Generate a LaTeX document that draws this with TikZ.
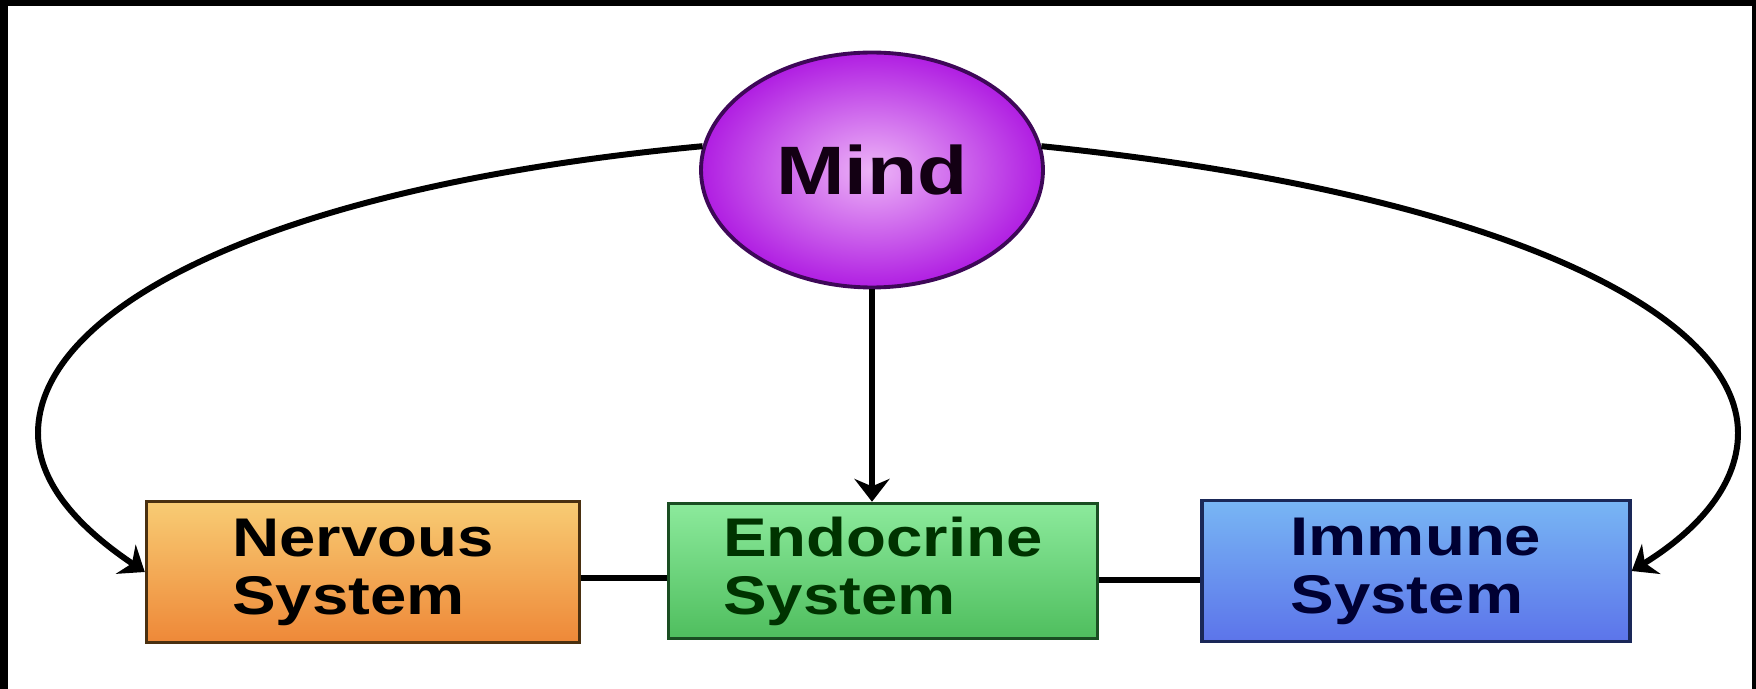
\documentclass[tikz,border=0pt]{standalone}
\usepackage{fontspec}
\setmainfont[FakeStretch=1.2]{Liberation Sans}
\usetikzlibrary{shapes.geometric,arrows.meta}

\definecolor{mindin}{HTML}{EDB4F7}
\definecolor{mindout}{HTML}{B01EE2}
\definecolor{minddraw}{HTML}{3E0858}
\definecolor{nervtop}{HTML}{F8CC74}
\definecolor{nervbot}{HTML}{EE8838}
\definecolor{nervdraw}{HTML}{4A3010}
\definecolor{endotop}{HTML}{8CEA9C}
\definecolor{endobot}{HTML}{4FBE5E}
\definecolor{endodraw}{HTML}{1A4E22}
\definecolor{immutop}{HTML}{78B6F4}
\definecolor{immubot}{HTML}{5C74EA}
\definecolor{immudraw}{HTML}{1A2858}

\tikzset{
  sysbox/.style={rectangle, draw, line width=2pt, minimum height=2.82cm,
    align=left, inner sep=0pt, font=\fontsize{31}{33}\selectfont\bfseries},
  link/.style={line width=3.4pt},
  arr/.style={link, -{Stealth[length=13pt,width=20pt]}}
}

\begin{document}
\begin{tikzpicture}[x=0.02cm,y=-0.02cm]
      \useasboundingbox (0,0) rectangle (1756,689);
      \fill[black] (0,0) rectangle (1756,6);
      \fill[black] (0,0) rectangle (8,689);
      \fill[black] (1752,0) rectangle (1756,689);

      \node (mind) [ellipse, draw=minddraw, line width=2.2pt, inner color=mindin,
        outer color=mindout, minimum width=6.84cm, minimum height=4.7cm, inner sep=0pt,
        text=black!85!violet, font=\fontsize{39}{40}\selectfont\bfseries] at (872,170) {Mind};

      \node (nervous) [sysbox, draw=nervdraw, top color=nervtop, bottom color=nervbot,
        minimum width=8.66cm] at (363,572) {Nervous\\System};
      \node (endocrine) [sysbox, draw=endodraw, top color=endotop, bottom color=endobot,
        minimum width=8.58cm, minimum height=2.7cm, text=black!80!green] at (883,571) {Endocrine\\System};
      \node (immune) [sysbox, draw=immudraw, top color=immutop, bottom color=immubot,
        minimum width=8.56cm, text=black!80!blue] at (1416,571) {Immune\\System};

      \coordinate (lbend) at (38,433);
      \coordinate (rbend) at (1738,433);

      \draw[link] ([yshift=-0.12cm]nervous.east) -- ([yshift=-0.12cm]nervous.east -| endocrine.west);
      \draw[link] ([yshift=-0.18cm]endocrine.east) -- ([yshift=-0.18cm]endocrine.east -| immune.west);

      \draw[arr] (mind.south) -- (mind.south |- endocrine.north);
      \draw[arr] (mind.172) .. controls (256,188) and (38,313) .. (lbend)
        .. controls (38,490) and (90,535) .. (nervous.west);
      \draw[arr] (mind.8) .. controls (1500,193) and (1738,313) .. (rbend)
        .. controls (1738,490) and (1690,535) .. (immune.east);

    \end{tikzpicture}
\end{document}
